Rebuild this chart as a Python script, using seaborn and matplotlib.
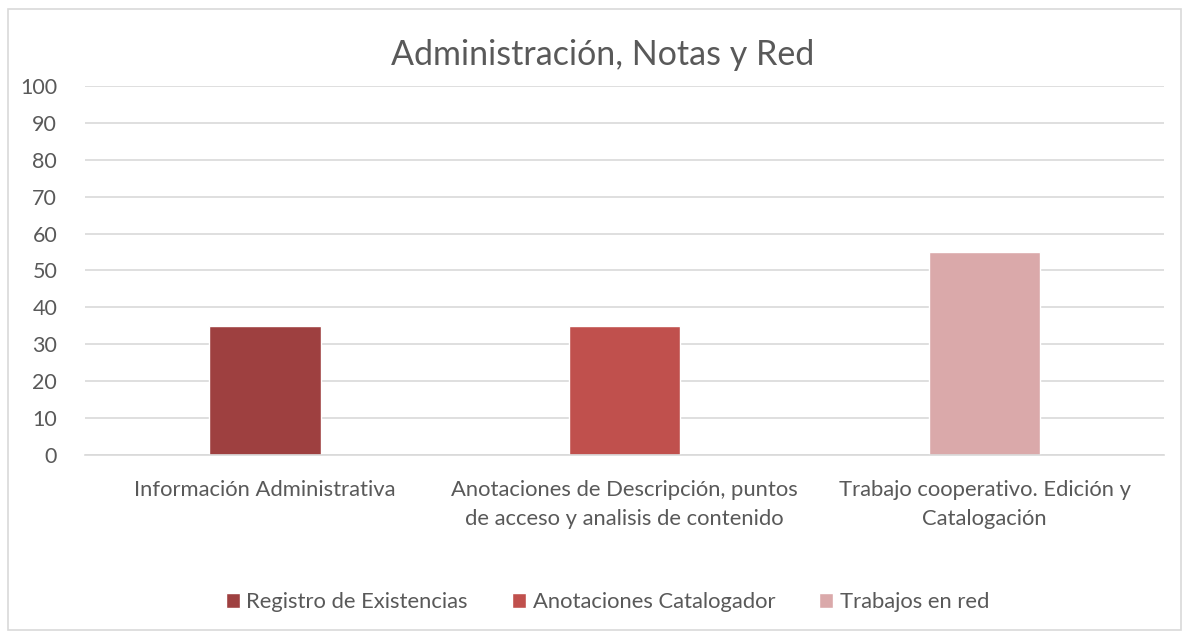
import numpy as np
import pandas as pd
import seaborn as sns
import matplotlib.pyplot as plt
from matplotlib.patches import Rectangle

# data
categories = [
    "Información Administrativa",
    "Anotaciones de Descripción, puntos\nde acceso y analisis de contenido",
    "Trabajo cooperativo. Edición y\nCatalogación",
]
series = ["Registro de Existencias", "Anotaciones Catalogador", "Trabajos en red"]
values = [35, 35, 55]
colors = ["#9E4040", "#C0504D", "#DAA9AA"]

df = pd.DataFrame({"categoria": categories, "serie": series, "valor": values})

sns.set_theme(style="white")
plt.rcParams["font.family"] = ["Lato", "DejaVu Sans"]
txt = "#595959"

fig = plt.figure(figsize=(11.87, 6.32), dpi=100)
ax = fig.add_axes([0.0716, 0.28, 0.9094, 0.584])

sns.barplot(
    data=df, x="categoria", y="valor", hue="serie", saturation=1,
    palette=colors, dodge=False, width=0.31, ax=ax, legend=True,
)

ax.set_ylim(0, 100)
ax.set_yticks(np.arange(0, 101, 10))
ax.set_xlim(-0.5, 2.5)
ax.yaxis.grid(True, color="#D9D9D9", linewidth=1.2)
ax.set_axisbelow(True)
for s in ["top", "right", "left"]:
    ax.spines[s].set_visible(False)
ax.spines["bottom"].set_color("#D9D9D9")
ax.spines["bottom"].set_linewidth(1.2)
ax.tick_params(axis="y", labelsize=15.5, colors=txt, length=0, pad=20)
ax.tick_params(axis="x", labelsize=15.8, colors=txt, length=0, pad=18)
for lab in ax.get_xticklabels():
    lab.set_linespacing(1.55)
ax.set_xlabel("")
ax.set_ylabel("")

fig.text(0.508, 0.913, "Administración, Notas y Red", ha="center", va="center",
         fontsize=24.5, color=txt)

ax.legend(
    loc="center", bbox_to_anchor=(0.484, -0.398), ncol=3, frameon=False,
    fontsize=15.8, labelcolor=txt, handlelength=0.65, handleheight=0.65,
    handletextpad=0.3, columnspacing=2.0,
)

# outer chart border
fig.patches.append(Rectangle((0.007, 0.003), 0.988, 0.982, transform=fig.transFigure,
                             fill=False, edgecolor="#D9D9D9", linewidth=1.2))

fig.savefig("out.png", dpi=100)
